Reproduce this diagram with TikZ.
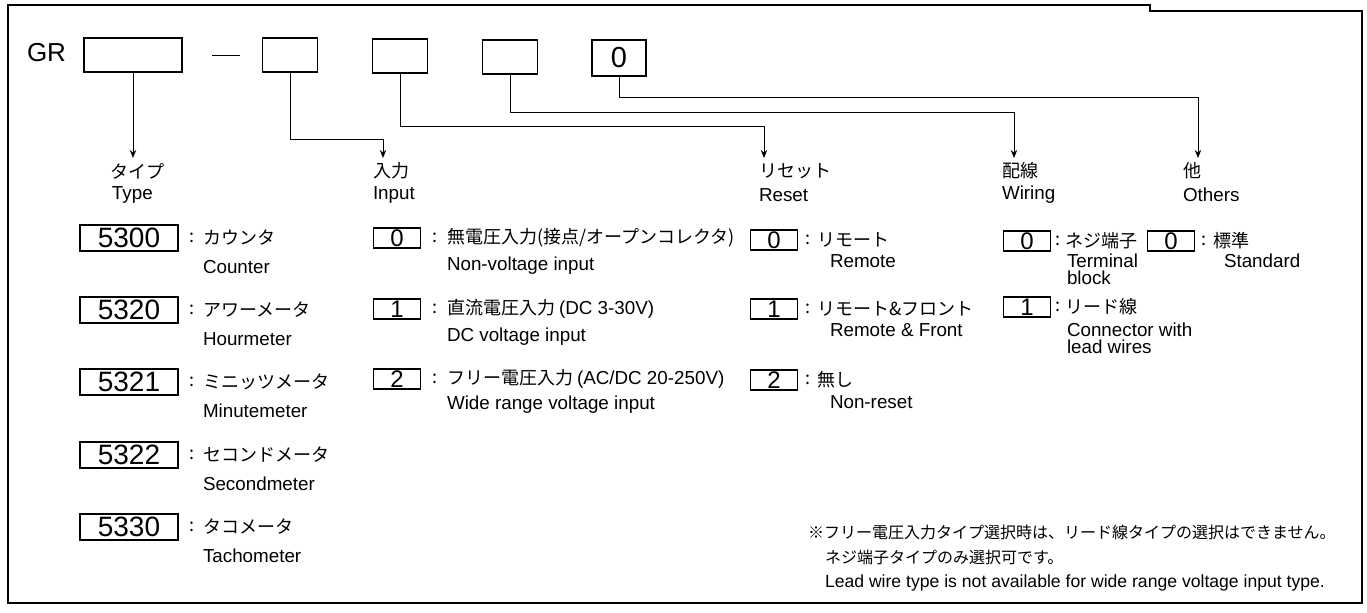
\documentclass[tikz,border=0pt]{standalone}
\usepackage{fontspec}
\setmainfont{Liberation Sans}
\newfontfamily\jp{Noto Sans CJK JP}
\newcommand\latpart[1]{{\normalfont\fontsize{9.4}{10}\selectfont #1}}
\usetikzlibrary{arrows.meta}
\begin{document}
\begin{tikzpicture}[x=0.5pt,y=-0.5pt,
  every node/.style={inner sep=0pt, outer sep=0pt},
  frame/.style={line width=1.1pt},
  topbox/.style={draw, line width=0.7pt, minimum height=17pt},
  typebox/.style={draw, line width=0.7pt, minimum width=49pt, minimum height=13pt, font=\fontsize{14}{14}\selectfont},
  smallbox/.style={draw, line width=0.7pt, minimum width=23.5pt, minimum height=10pt, font=\fontsize{12}{12}\selectfont},
  conn/.style={line width=0.5pt, -{Stealth[length=4pt,width=3.2pt]}},
  jt/.style={anchor=west, font=\jp\fontsize{9}{10}\selectfont},
  et/.style={anchor=west, font=\fontsize{9.4}{10}\selectfont},
  col/.style={font=\jp\fontsize{9}{10}\selectfont},
  nj/.style={anchor=west, font=\jp\fontsize{8}{9}\selectfont},
  ne/.style={anchor=west, font=\fontsize{8.8}{9}\selectfont},
]
\useasboundingbox (0,0) rectangle (1367,613);
\fill[white] (0,0) rectangle (1367,613);
\draw[frame] (8,603) -- (8,5) -- (1150,5) -- (1150,11) -- (1362,11) -- (1362,603) -- cycle;

% top code
\node[anchor=west, font=\fontsize{13}{13}\selectfont] (gr) at (27,53) {GR};
\node[topbox, minimum width=49pt] (b1) at (133,55) {};
\node (dash) at (226,56) {\rule{14pt}{0.5pt}};
\node[topbox, minimum width=27.5pt] (b2) at (290,55) {};
\node[topbox, minimum width=27.5pt] (b3) at (400,56) {};
\node[topbox, minimum width=27.5pt] (b4) at (510,57) {};
\node[topbox, minimum width=27pt, minimum height=18pt, font=\fontsize{14.5}{15}\selectfont] (b5) at (619,58) {0};

% connectors
\coordinate (t1) at (133,158);
\coordinate (h2) at (383,140); \coordinate (t2) at (383,158);
\coordinate (h3) at (764,127); \coordinate (t3) at (764,158);
\coordinate (h4) at (1014,113); \coordinate (t4) at (1014,158);
\coordinate (h5) at (1198,98); \coordinate (t5) at (1198,158);
\draw[conn] (b1.south) -- (t1);
\draw[conn] (b2.south) |- (h2) -- (t2);
\draw[conn] (b3.south) |- (h3) -- (t3);
\draw[conn] (b4.south) |- (h4) -- (t4);
\draw[conn] (b5.south) |- (h5) -- (t5);

% headers
\node[jt] (hTj) at (110,171) {タイプ};
\node[et] (hTe) at (112,195) {Type};
\node[jt] (hIj) at (373,171) {入力};
\node[et] (hIe) at (373,195) {Input};
\node[jt] (hRj) at (759,171) {リセット};
\node[et] (hRe) at (759,195) {Reset};
\node[jt] (hWj) at (1002,171) {配線};
\node[et] (hWe) at (1002,195) {Wiring};
\node[jt] (hOj) at (1183,171) {他};
\node[et] (hOe) at (1183,195) {Others};

% type list
\node[typebox] (ty1) at (129,238) {5300};
\node[col] (tc1) at (192,238) {:};
\node[jt] (tj1) at (203,238) {カウンタ};
\node[et] (te1) at (203,267) {Counter};
\node[typebox] (ty2) at (129,310) {5320};
\node[col] (tc2) at (192,310) {:};
\node[jt] (tj2) at (203,310) {アワーメータ};
\node[et] (te2) at (203,339) {Hourmeter};
\node[typebox] (ty3) at (129,382) {5321};
\node[col] (tc3) at (192,382) {:};
\node[jt] (tj3) at (203,382) {ミニッツメータ};
\node[et] (te3) at (203,411) {Minutemeter};
\node[typebox] (ty4) at (129,455) {5322};
\node[col] (tc4) at (192,455) {:};
\node[jt] (tj4) at (203,455) {セコンドメータ};
\node[et] (te4) at (203,484) {Secondmeter};
\node[typebox] (ty5) at (129,527) {5330};
\node[col] (tc5) at (192,527) {:};
\node[jt] (tj5) at (203,527) {タコメータ};
\node[et] (te5) at (203,556) {Tachometer};

% input list
\node[smallbox] (in0) at (397,238) {0};
\node[col] (ic0) at (435,238) {:};
\node[jt] (ij0) at (447,238) {無電圧入力(接点/オープンコレクタ)};
\node[et] (ie0) at (447,266) {Non-voltage input};
\node[smallbox] (in1) at (397,309) {1};
\node[col] (ic1) at (435,309) {:};
\node[jt] (ij1) at (447,309) {直流電圧入力 \latpart{(DC 3-30V)}};
\node[et] (ie1) at (447,337) {DC voltage input};
\node[smallbox] (in2) at (397,379) {2};
\node[col] (ic2) at (435,379) {:};
\node[jt] (ij2) at (447,379) {フリー電圧入力 \latpart{(AC/DC 20-250V)}};
\node[et] (ie2) at (447,405) {Wide range voltage input};

% reset list
\node[smallbox] (rs0) at (774,240) {0};
\node[col] (rc0) at (808,240) {:};
\node[jt] (rj0) at (817,240) {リモート};
\node[et] (re0) at (830,261) {Remote};
\node[smallbox] (rs1) at (774,309) {1};
\node[col] (rc1) at (808,309) {:};
\node[jt] (rj1) at (817,309) {リモート\&フロント};
\node[et] (re1) at (830,330) {Remote \& Front};
\node[smallbox] (rs2) at (774,380) {2};
\node[col] (rc2) at (808,380) {:};
\node[jt] (rj2) at (817,380) {無し};
\node[et] (re2) at (830,402) {Non-reset};

% wiring list
\node[smallbox] (wr0) at (1027,241) {0};
\node[col] (wc0) at (1058,241) {:};
\node[jt] (wj0) at (1065,241) {ネジ端子};
\node[et] (we0) at (1067,261) {Terminal};
\node[et] (we0b) at (1067,278) {block};
\node[smallbox] (wr1) at (1027,307) {1};
\node[col] (wc1) at (1058,307) {:};
\node[jt] (wj1) at (1065,307) {リード線};
\node[et] (we1) at (1067,330) {Connector with};
\node[et] (we1b) at (1067,347) {lead wires};

% others list
\node[smallbox] (ot0) at (1171,241) {0};
\node[col] (oc0) at (1204,241) {:};
\node[jt] (oj0) at (1213,241) {標準};
\node[et] (oe0) at (1224,261) {Standard};

% note
\node[nj] (n1) at (808,532) {※フリー電圧入力タイプ選択時は、リード線タイプの選択はできません。};
\node[nj] (n2) at (825,557) {ネジ端子タイプのみ選択可です。};
\node[ne] (n3) at (825,583) {Lead wire type is not available for wide range voltage input type.};
\end{tikzpicture}
\end{document}
